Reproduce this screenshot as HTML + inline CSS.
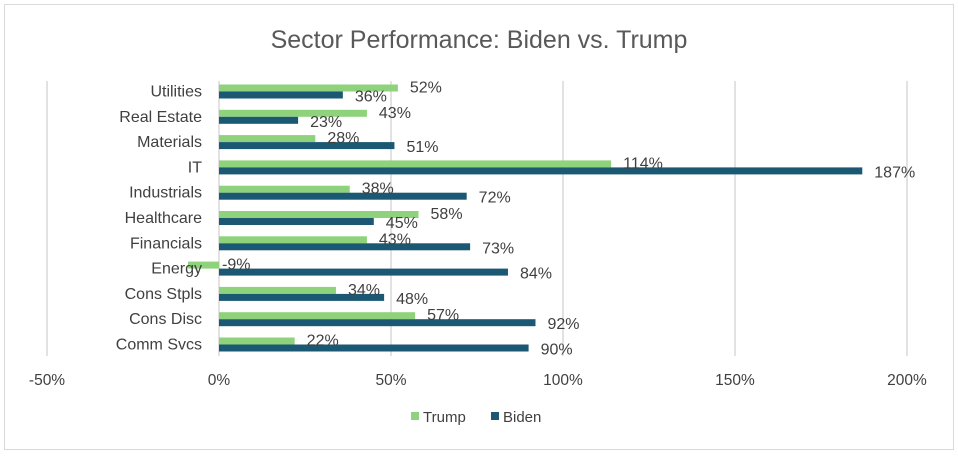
<!DOCTYPE html>
<html><head><meta charset="utf-8"><style>
body{margin:0;background:#fff;}
svg text{font-family:"Liberation Sans",sans-serif;fill:#404040;}
</style></head><body>
<svg width="958" height="454">
<rect x="4.5" y="4.5" width="949" height="445" fill="#fff" stroke="#d9d9d9"/>
<text x="479" y="48" text-anchor="middle" font-size="25" style="fill:#595959">Sector Performance: Biden vs. Trump</text>
<g id="grid"></g><g id="bars"></g><g id="labels"></g>
<g>
<rect x="411" y="412" width="8" height="8" fill="#8fd27c"/>
<text x="423" y="422" font-size="15">Trump</text>
<rect x="491" y="412" width="8" height="8" fill="#1a5873"/>
<text x="503" y="422" font-size="15">Biden</text>
</g>
</svg>
<script>
const categories=["Utilities","Real Estate","Materials","IT","Industrials","Healthcare","Financials","Energy","Cons Stpls","Cons Disc","Comm Svcs"];
const trump=[52,43,28,114,38,58,43,-9,34,57,22];
const biden=[36,23,51,187,72,45,73,84,48,92,90];
const ticks=[-50,0,50,100,150,200];
const NS="http://www.w3.org/2000/svg";
const x=v=>219+v*3.44;
const yb=i=>91.5+i*25.3;
function mk(t,a,p){const e=document.createElementNS(NS,t);for(const k in a)e.setAttribute(k,a[k]);document.getElementById(p).appendChild(e);return e;}
ticks.forEach(t=>{
 if(t!==0){const g=mk('line',{x1:x(t),x2:x(t),y1:81,y2:356,stroke:'#d9d9d9','stroke-width':1.5},'grid');
 
 }
 const l=mk('text',{x:x(t),y:385,'text-anchor':'middle','font-size':15.5},'grid');l.textContent=t+'%';
 
 
});
categories.forEach((c,i)=>{
 const b=yb(i);
 const cl=mk('text',{x:202,y:b+5,'text-anchor':'end','font-size':16},'labels');cl.textContent=c;
 
 
 const tv=trump[i],bv=biden[i];
 const r1=mk('rect',{x:Math.min(x(0),x(tv)),y:b-7,width:Math.abs(x(tv)-x(0)),height:7,fill:'#8fd27c'},'bars');
 
 
 const r2=mk('rect',{x:Math.min(x(0),x(bv)),y:b,width:Math.abs(x(bv)-x(0)),height:7,fill:'#1a5873'},'bars');
 
 
 const t1=mk('text',{x:tv<0?x(0)+3:x(tv)+12,y:b+1,'font-size':16},'labels');t1.textContent=tv+'%';
 
 
 const t2=mk('text',{x:bv<0?x(0)+3:x(bv)+12,y:b+10,'font-size':16},'labels');t2.textContent=bv+'%';
 
 
});
const z=mk('line',{x1:x(0),x2:x(0),y1:81,y2:356,stroke:'#d9d9d9','stroke-width':1.5},'grid');


</script>
</body></html>
